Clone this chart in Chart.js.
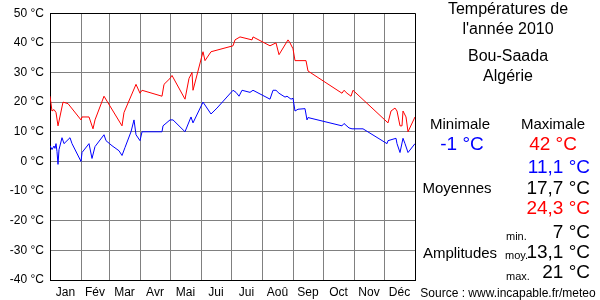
<!DOCTYPE html>
<html>
<head>
<meta charset="utf-8">
<script src="https://cdn.jsdelivr.net/npm/chart.js@4/dist/chart.umd.min.js"></script>
<style>
  body { margin: 0; background: #fff; }
  canvas { display: block; }
</style>
</head>
<body>
<canvas id="temp" width="600" height="300"></canvas>
<script>
(function () {
    "use strict";

    // jour de l'année -> température (sommets)
    const maxDays = [0, 2, 4, 6, 8, 13, 18, 31, 32, 39, 43, 45, 54, 72, 74, 86, 90, 92, 112, 114, 120, 122, 135, 139, 142, 143, 153, 155, 161, 183, 185, 190, 202, 203, 220, 226, 229, 238, 240, 243, 245, 256, 258, 292, 294, 297, 301, 303, 338, 341, 345, 347, 350, 352, 353, 356, 358, 365];
    const maxTemps = [22, 17, 17.5, 16.5, 12, 20, 19.5, 14, 15, 15, 11, 14, 22, 12, 16.5, 26, 23, 24, 22, 26, 28, 29, 21, 28, 30, 24, 37, 34, 37, 39, 41, 42, 41, 42, 39, 40, 36, 41, 40, 38, 34, 34, 30.5, 23, 24, 23, 22, 24, 13, 17, 18, 17, 12, 12, 17, 15, 10, 15];

    const minDays = [0, 2, 4, 5, 6, 7, 8, 9, 12, 14, 20, 22, 31, 32, 39, 42, 45, 54, 56, 62, 69, 72, 75, 81, 84, 86, 90, 92, 112, 113, 120, 123, 135, 141, 143, 153, 161, 167, 183, 186, 189, 192, 200, 203, 220, 223, 226, 229, 235, 237, 241, 243, 245, 248, 255, 257, 258, 292, 294, 299, 302, 313, 337, 338, 346, 347, 350, 353, 355, 358, 365];
    const minTemps = [5.3, 4, 5.2, 4.4, 6, 3.3, -1, 4, 8, 6, 8, 6, 0, 3, 6, 1, 5, 9, 7, 5.3, 3.6, 2, 4.7, 10, 14, 9, 7, 10, 10, 12, 14, 14, 10, 15, 13, 20, 16, 18, 24, 23.3, 22, 24, 23.3, 24, 21, 24, 24, 23, 21.7, 22, 21, 21.3, 17, 17.6, 17.8, 14, 14.8, 12, 12.8, 11.3, 11, 11, 6, 7, 7.8, 6, 3, 7.8, 6, 3, 6];

    const monthStarts = [0, 31, 59, 90, 120, 151, 181, 212, 243, 273, 304, 334, 365];
    const monthNames = ['Jan', 'Fév', 'Mar', 'Avr', 'Mai', 'Jui', 'Jui', 'Aoû', 'Sep', 'Oct', 'Nov', 'Déc'];

    const FONT = '"Liberation Sans", Arial, sans-serif';

    // ticks : limites de mois (grille) + milieux de mois (étiquettes)
    const xTicks = [];
    const monthMid = {};
    monthStarts.forEach(function (d, i) {
        xTicks.push({ value: d });
        if (i < monthNames.length) {
            const mid = (d + monthStarts[i + 1]) / 2;
            monthMid[mid] = monthNames[i];
            xTicks.push({ value: mid });
        }
    });

    const toXY = (days, temps) => days.map((d, i) => ({ x: d, y: temps[i] }));

    const sidePanel = {
        id: 'sidePanel',
        afterDraw: function (chart) {
            const ctx = chart.ctx;
            ctx.save();
            ctx.textBaseline = 'middle';

            function txt(s, x, y, size, color, align) {
                ctx.font = size + 'px ' + FONT;
                ctx.fillStyle = color || '#000';
                ctx.textAlign = align || 'center';
                ctx.fillText(s, x, y);
            }

            txt('Températures de', 508, 10, 16);
            txt("l'année 2010", 508, 30, 16);
            txt('Bou-Saada', 508, 57, 16);
            txt('Algérie', 508, 77, 16);

            txt('Minimale', 460, 125, 15);
            txt('Maximale', 553, 125, 15);
            txt('-1 °C', 462, 145, 19, '#0000ff');
            txt('42 °C', 553, 145, 19, '#ff0000');

            txt('11,1 °C', 590, 168, 19, '#0000ff', 'right');
            txt('Moyennes', 457, 189, 15);
            txt('17,7 °C', 590, 189, 19, '#000', 'right');
            txt('24,3 °C', 590, 209, 19, '#ff0000', 'right');

            txt('min.', 506, 237, 11, '#000', 'left');
            txt('7 °C', 590, 233, 19, '#000', 'right');
            txt('Amplitudes', 460, 254, 15);
            txt('moy.', 505, 256, 11, '#000', 'left');
            txt('13,1 °C', 590, 253, 19, '#000', 'right');
            txt('max.', 506, 277, 11, '#000', 'left');
            txt('21 °C', 590, 273, 19, '#000', 'right');

            txt('Source : www.incapable.fr/meteo', 508, 294, 12);
            ctx.restore();
        }
    };

    const ctx = document.getElementById('temp').getContext('2d');
    new Chart(ctx, {
        type: 'line',
        data: {
            datasets: [{
                label: 'Maximale',
                data: toXY(maxDays, maxTemps),
                borderColor: '#ff0000',
                borderWidth: 1,
                pointRadius: 0,
                tension: 0,
                fill: false
            }, {
                label: 'Minimale',
                data: toXY(minDays, minTemps),
                borderColor: '#0000ff',
                borderWidth: 1,
                pointRadius: 0,
                tension: 0,
                fill: false
            }]
        },
        plugins: [sidePanel],
        options: {
            responsive: false,
            animation: false,
            devicePixelRatio: 1,
            layout: { padding: { left: 0, right: 185, top: 10, bottom: 0 } },
            plugins: {
                legend: { display: false },
                tooltip: { enabled: false }
            },
            scales: {
                x: {
                    type: 'linear',
                    min: 0,
                    max: 365,
                    afterBuildTicks: function (scale) { scale.ticks = xTicks.slice(); },
                    afterFit: function (scale) { scale.height = 20; },
                    border: { display: true, color: '#000', width: 1 },
                    grid: {
                        drawTicks: false,
                        lineWidth: 1,
                        color: function (c) {
                            const v = c.tick ? c.tick.value : null;
                            if (v === 365) return '#000';
                            return monthMid[v] !== undefined ? 'rgba(0,0,0,0)' : '#808080';
                        }
                    },
                    ticks: {
                        autoSkip: false,
                        maxRotation: 0,
                        padding: 5,
                        color: '#000',
                        font: { family: FONT, size: 12 },
                        callback: function (v) { return monthMid[v] || ''; }
                    }
                },
                y: {
                    min: -40,
                    max: 50,
                    afterFit: function (scale) { scale.width = 50; },
                    border: { display: true, color: '#000', width: 1 },
                    grid: {
                        drawTicks: false,
                        lineWidth: 1,
                        color: function (c) {
                            return c.tick && c.tick.value === 50 ? '#000' : '#808080';
                        }
                    },
                    ticks: {
                        stepSize: 10,
                        padding: 6,
                        color: '#000',
                        font: { family: FONT, size: 12 },
                        callback: function (v) { return v + ' °C'; }
                    }
                }
            }
        }
    });
})();
</script>
</body>
</html>
